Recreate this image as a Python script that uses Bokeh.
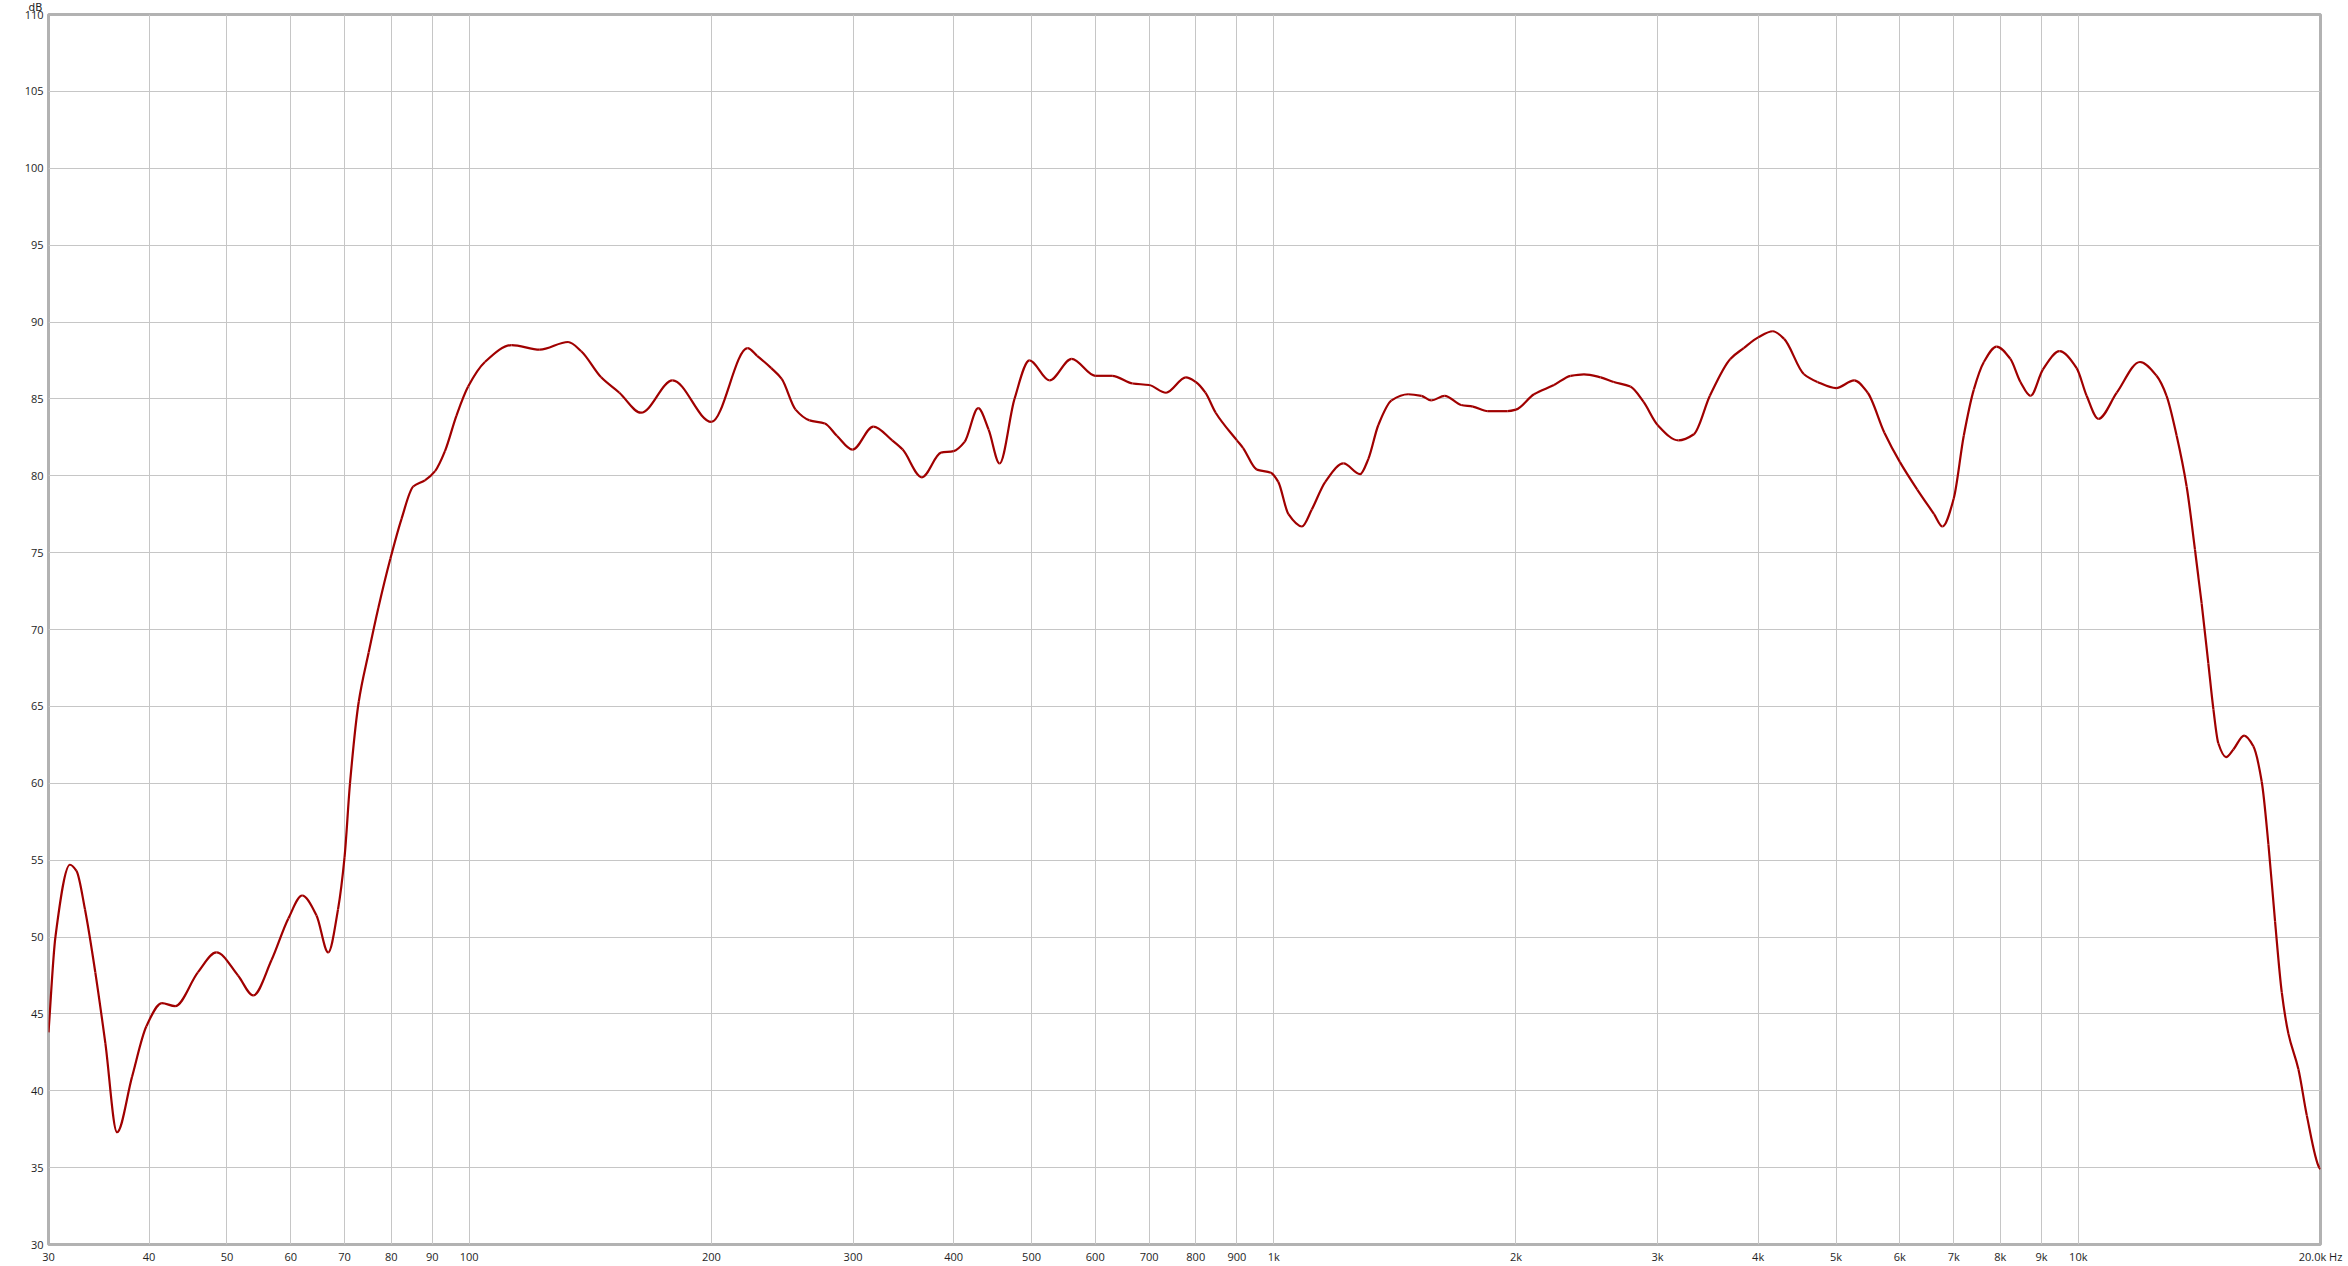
import math
from bokeh.plotting import figure
from bokeh.models import FixedTicker, Range1d, ColumnDataSource
from bokeh.embed import file_html
from bokeh.resources import INLINE

# Frequency response (Hz, dB)
freq_hz = [
    30.0, 30.6, 31.9, 32.5, 33.3, 34.3, 35.3, 36.5, 38.1, 39.7, 41.5, 43.1,
    46.0, 48.5, 51.6, 53.9, 56.8, 59.6, 62.0, 64.6, 66.8, 68.7, 70.0, 71.1,
    72.9, 75.0, 77.1, 79.8, 82.4, 85.2, 88.1, 90.7, 93.3, 96.4, 99.7, 104.6,
    112.9, 122.4, 132.7, 137.8, 145.9, 153.7, 163.5, 179.0, 200.0, 221.8,
    228.0, 237.4, 244.6, 254.5, 264.9, 276.7, 286.4, 299.5, 317.9, 335.6,
    345.8, 365.3, 385.9, 400.0, 412.8, 429.2, 442.2, 456.3, 476.2, 497.0,
    526.4, 560.8, 600.0, 629.8, 667.9, 700.0, 734.7, 777.7, 800.0, 822.4,
    846.9, 900.0, 916.1, 952.7, 991.8, 1013, 1043, 1084, 1115, 1159, 1221,
    1280, 1311, 1349, 1401, 1469, 1526, 1570, 1631, 1710, 1768, 1845, 1953,
    2000, 2106, 2230, 2339, 2430, 2549, 2646, 2775, 2882, 3000, 3184, 3328,
    3484, 3694, 3838, 4000, 4172, 4309, 4561, 4740, 5000, 5266, 5473, 5741,
    6000, 6307, 6618, 6779, 7000, 7205, 7415, 7632, 7914, 8233, 8474, 8722,
    9035, 9476, 9952, 10242, 10593, 11164, 11931, 12511, 12873, 13251, 13635,
    13964, 14233, 14508, 14721, 14929, 15261, 15587, 16073, 16504, 16904,
    17232, 17562, 17902, 18247, 18775, 19230, 19926, 20000,
]
level_db = [
    43.8, 50.0, 54.7, 54.3, 51.8, 47.7, 43.1, 37.3, 40.9, 44.2, 45.7, 45.5,
    47.7, 49.0, 47.5, 46.2, 48.5, 51.2, 52.7, 51.4, 49.0, 51.8, 55.2, 60.0,
    65.3, 68.5, 71.4, 74.6, 77.2, 79.3, 79.7, 80.3, 81.6, 83.9, 85.8, 87.4,
    88.5, 88.2, 88.7, 88.1, 86.4, 85.4, 84.1, 86.2, 83.5, 88.3,
    87.8, 87.0, 86.3, 84.3, 83.6, 83.4, 82.6, 81.7, 83.2, 82.3,
    81.7, 79.9, 81.5, 81.6, 82.2, 84.4, 83.0, 80.8, 85.0, 87.5,
    86.2, 87.6, 86.5, 86.5, 86.0, 85.9, 85.4, 86.4, 86.1, 85.4,
    84.1, 82.3, 81.8, 80.4, 80.2, 79.6, 77.5, 76.7, 77.8, 79.6, 80.8,
    80.1, 81.1, 83.3, 84.9, 85.3, 85.2, 84.9, 85.2, 84.6, 84.5, 84.2, 84.2,
    84.3, 85.3, 85.9, 86.5, 86.6, 86.4, 86.1, 85.8, 84.8, 83.3, 82.3, 82.7,
    85.2, 87.6, 88.3, 89.0, 89.4, 88.9, 86.6, 86.1, 85.7, 86.2, 85.4, 82.8,
    80.9, 79.1, 77.5, 76.7, 78.5, 82.6, 85.6, 87.4, 88.4, 87.6, 86.1, 85.2,
    86.9, 88.1, 87.0, 85.2, 83.7, 85.4, 87.4, 86.5, 85.2, 82.6, 79.3,
    75.2, 71.7, 67.8, 64.8, 62.6, 61.7, 62.2, 63.1, 62.4, 60.1,
    56.0, 51.0, 46.4, 43.7, 41.4, 38.4, 35.0, 34.9,
]

x_tick_values = [30, 40, 50, 60, 70, 80, 90, 100, 200, 300, 400, 500, 600, 700,
                 800, 900, 1000, 2000, 3000, 4000, 5000, 6000, 7000, 8000,
                 9000, 10000, 20000]
x_tick_labels = ["30", "40", "50", "60", "70", "80", "90", "100", "200", "300",
                 "400", "500", "600", "700", "800", "900", "1k", "2k", "3k",
                 "4k", "5k", "6k", "7k", "8k", "9k", "10k", "20.0k Hz"]
y_tick_values = [30, 35, 40, 45, 50, 55, 60, 65, 70, 75, 80, 85, 90, 95, 100,
                 105, 110]
unit_label = "dB"

FONT = "Open Sans"
FSIZE = "11px"
TCOLOR = "#1e1e1e"
LINE_COLOR = "#a00000"


def smooth_segments(xs, ys):
    """Cubic (monotone Hermite) Bezier segments through the data points,
    built in log-frequency space so the drawn curve is smooth on the log axis."""
    lx = [math.log10(v) for v in xs]
    n = len(lx)
    h = [lx[i + 1] - lx[i] for i in range(n - 1)]
    d = [(ys[i + 1] - ys[i]) / h[i] for i in range(n - 1)]
    m = [0.0] * n
    m[0] = d[0]
    m[-1] = d[-1]
    for k in range(1, n - 1):
        if d[k - 1] * d[k] <= 0:
            m[k] = 0.0
        else:
            w1 = 2 * h[k] + h[k - 1]
            w2 = h[k] + 2 * h[k - 1]
            m[k] = (w1 + w2) / (w1 / d[k - 1] + w2 / d[k])
    seg = dict(x0=[], y0=[], x1=[], y1=[], cx0=[], cy0=[], cx1=[], cy1=[])
    for i in range(n - 1):
        t = h[i] / 3.0
        seg["x0"].append(xs[i]); seg["y0"].append(ys[i])
        seg["x1"].append(xs[i + 1]); seg["y1"].append(ys[i + 1])
        seg["cx0"].append(10 ** (lx[i] + t)); seg["cy0"].append(ys[i] + m[i] * t)
        seg["cx1"].append(10 ** (lx[i + 1] - t)); seg["cy1"].append(ys[i + 1] - m[i + 1] * t)
    return seg


p = figure(width=2348, height=1266, x_axis_type="log",
           x_range=Range1d(30, 20000), y_range=Range1d(30, 110),
           output_backend="svg", toolbar_location=None,
           min_border_left=48, min_border_right=28,
           min_border_top=14, min_border_bottom=21,
           background_fill_color="white", border_fill_color="white",
           title=unit_label)

# "dB" unit label above the y-axis labels, drawn as the (tiny) title
p.title.align = "left"
p.title.offset = -20
p.title.standoff = 0
p.title.vertical_align = "top"
p.title.text_font = "DejaVu Sans"
p.title.text_font_size = "10.5px"
p.title.text_font_style = "normal"
p.title.text_color = TCOLOR

src = ColumnDataSource(smooth_segments(freq_hz, level_db))
p.bezier(x0="x0", y0="y0", x1="x1", y1="y1", cx0="cx0", cy0="cy0",
         cx1="cx1", cy1="cy1", source=src, line_color=LINE_COLOR,
         line_width=2.2)

xt = FixedTicker(ticks=x_tick_values, minor_ticks=[])
yt = FixedTicker(ticks=y_tick_values, minor_ticks=[])
p.xaxis.ticker = xt
p.yaxis.ticker = yt
p.xgrid.ticker = xt
p.ygrid.ticker = yt
p.xaxis.major_label_overrides = {float(v): l for v, l in zip(x_tick_values, x_tick_labels)}

for ax in (p.xaxis, p.yaxis):
    ax.axis_line_color = None
    ax.major_tick_line_color = None
    ax.minor_tick_line_color = None
    ax.major_tick_out = 0
    ax.major_tick_in = 0
    ax.major_label_text_font = FONT
    ax.major_label_text_font_size = FSIZE
    ax.major_label_text_color = TCOLOR
p.xaxis.major_label_standoff = 4
p.yaxis.major_label_standoff = 5

p.grid.grid_line_color = "#c6c6c6"
p.grid.grid_line_width = 1
p.outline_line_color = "#b2b2b2"
p.outline_line_width = 3

open("out.html", "w").write(file_html(p, INLINE))
